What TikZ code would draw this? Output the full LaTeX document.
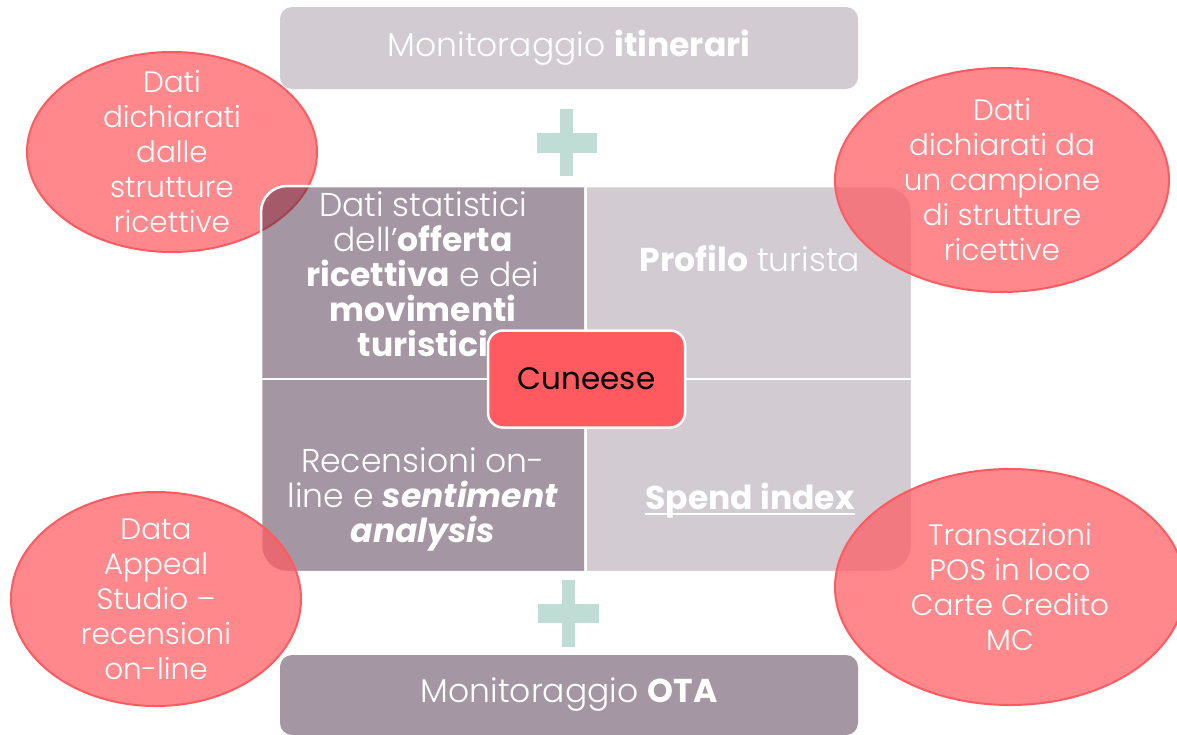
\documentclass[tikz,border=0pt]{standalone}
\usepackage{fontspec}
\IfFontExistsTF{Poppins Light}{\setmainfont{Poppins}[UprightFont=* Light, BoldFont=* Bold, BoldItalicFont=* Bold Italic]}{\setmainfont{Poppins}}
\newfontfamily\regfont{Poppins}
\usetikzlibrary{shapes.geometric}
\definecolor{coral}{HTML}{FF5A5F}
\definecolor{lightq}{HTML}{D2CCD2}
\definecolor{darkq}{HTML}{A497A3}
\definecolor{tlc}{HTML}{492F47}
\definecolor{mint}{HTML}{BFDDD5}
\begin{document}
\begin{tikzpicture}[x=1pt,y=-1pt,
  txt/.style={font=\fontsize{33}{35}\selectfont, text=white, align=center, inner sep=0pt},
  etxt/.style={font=\fontsize{29.5}{35}\selectfont, text=white, align=center, inner sep=0pt},
  ellbox/.style={ellipse, draw=coral, line width=2pt, fill=coral, fill opacity=0.72, draw opacity=1, inner sep=0pt},
  bar/.style={rounded corners=12pt, inner sep=0pt, minimum width=578pt},
  quadedge/.style={draw=white, line width=2.5pt, rounded corners=26pt}
]
\useasboundingbox (0,0) rectangle (1177,734);

% bars
\node[bar, fill=lightq, minimum height=82pt, txt] (top) at (569,48) {Monitoraggio \textbf{itinerari}};
\node[bar, fill=darkq, minimum height=80pt, txt] (bot) at (569,695) {Monitoraggio \textbf{OTA}};

% plus signs
\fill[mint] (560,109) rectangle (573,176);
\fill[mint] (537,133) rectangle (597,153);
\fill[mint] (562,580) rectangle (575,647);
\fill[mint] (538,604) rectangle (599,623);

% top-left ellipse (under the grid)
\node[ellbox, minimum width=290pt, minimum height=200pt] (e1) at (172,152) {};
\node[etxt] (e1t) at (e1.center) {Dati\\dichiarati\\dalle\\strutture\\ricettive};

% grid quadrants
\begin{scope}
  \clip (255,180) rectangle (584,377);
  \path[quadedge, fill=tlc, fill opacity=0.5] (261,186) rectangle (660,450);
\end{scope}
\begin{scope}
  \clip (587,180) rectangle (920,377);
  \path[quadedge, fill=lightq] (520,186) rectangle (912,450);
\end{scope}
\begin{scope}
  \clip (255,380) rectangle (584,580);
  \path[quadedge, fill=darkq] (261,300) rectangle (660,572);
\end{scope}
\begin{scope}
  \clip (587,380) rectangle (920,580);
  \path[quadedge, fill=lightq] (520,300) rectangle (912,572);
\end{scope}

\node[txt] (q1) at (423,274) {Dati statistici\\dell’\textbf{offerta}\\\textbf{ricettiva} e dei\\\textbf{movimenti}\\\textbf{turistici}};
\node[txt] (q2) at (750,258) {\textbf{Profilo} turista};
\node[txt] (q3) at (423,499) {Recensioni on-\\line e \textbf{\textit{sentiment}}\\\textbf{\textit{analysis}}};
\node[txt] (q4) at (750,501) {\textbf{Spend index}};
\draw[white, line width=2pt] ([yshift=-4pt]q4.base west) -- ([yshift=-4pt]q4.base east);

% centre box
\node[draw=white, line width=2.5pt, fill=coral, rounded corners=15pt, minimum width=197pt, minimum height=97pt, inner sep=0pt, text=black, font=\regfont\fontsize{31}{35}\selectfont] (c) at (586.5,379) {Cuneese};

% other ellipses (over the grid)
\node[ellbox, minimum width=334pt, minimum height=224pt] (e2) at (1002,180) {};
\node[etxt] (e2t) at (e2.center) {Dati\\dichiarati da\\un campione\\di strutture\\ricettive};
\node[ellbox, minimum width=290pt, minimum height=214pt] (e3) at (156,599) {};
\node[etxt] (e3t) at (e3.center) {Data\\Appeal\\Studio –\\recensioni\\on-line};
\node[ellbox, minimum width=350pt, minimum height=236pt] (e4) at (1010,587) {};
\node[etxt] (e4t) at (e4.center) {Transazioni\\POS in loco\\Carte Credito\\MC};
\end{tikzpicture}
\end{document}
